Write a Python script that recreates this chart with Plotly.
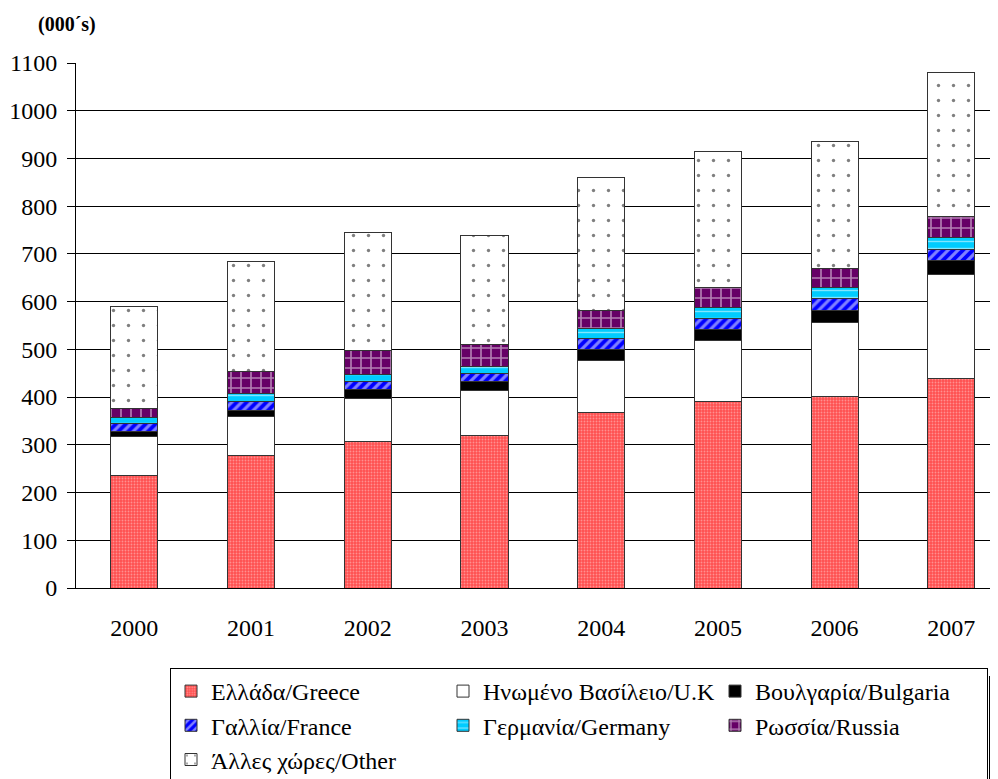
import plotly.graph_objects as go

years = ["2000", "2001", "2002", "2003", "2004", "2005", "2006", "2007"]
greece = [236, 278, 308, 319, 368, 391, 401, 439]
uk = [82, 82, 89, 95, 109, 128, 156, 218]
bulgaria = [10, 12, 19, 18, 23, 23, 25, 30]
france = [17, 19, 16, 17, 23, 22, 24, 23]
germany = [12, 16, 15, 15, 20, 23, 23, 24]
russia = [20, 46, 50, 47, 39, 42, 40, 45]
other = [212, 231, 248, 228, 278, 286, 266, 302]

names = ["Ελλάδα/Greece", "Ηνωμένο Βασίλειο/U.K", "Βουλγαρία/Bulgaria",
         "Γαλλία/France", "Γερμανία/Germany", "Ρωσσία/Russia", "Άλλες χώρες/Other"]
series = [greece, uk, bulgaria, france, germany, russia, other]

styles = [
    dict(color="#FF5555", pattern=dict(shape=".", fgcolor="#FFD0D0", bgcolor="#FF5050", size=3, solidity=0.3)),
    dict(color="white"),
    dict(color="black"),
    dict(color="#0000FF", pattern=dict(shape="/", fgcolor="white", bgcolor="#0000FF", size=7, solidity=0.45)),
    dict(color="#00CCFF", pattern=dict(shape="-", fgcolor="white", bgcolor="#00CCFF", size=7, solidity=0.2)),
    dict(color="#660066", pattern=dict(shape="+", fgcolor="white", bgcolor="#660066", size=10, solidity=0.3)),
    dict(color="white", pattern=dict(shape=".", fgcolor="black", bgcolor="white", size=15, solidity=0.04)),
]

fig = go.Figure()
for nm, vals, st in zip(names, series, styles):
    marker = dict(st)
    marker["line"] = dict(color="#333333", width=1)
    fig.add_trace(go.Bar(x=years, y=vals, name=nm, marker=marker, width=0.403))

serif = "Liberation Serif, Times New Roman, serif"
OFF = 8  # page body margin
W, H = 998 - OFF, 779 - OFF
PL, PT, PR, PB = 76, 63, 998, 588  # plot area in screen pixels
L = PL - OFF
T = PT - OFF
R = 0
pw = PR - PL
ph = PB - PT
B = H - T - ph

def px_x(p):
    return (p - PL) / pw

def px_y(p):
    return (PB - p) / ph

fig.update_layout(
    width=W, height=H,
    barmode="stack",
    plot_bgcolor="white", paper_bgcolor="white",
    margin=dict(l=L, r=R, t=T, b=B, pad=0, autoexpand=False),
    font=dict(family=serif, size=24, color="black"),
    showlegend=True,
    legend=dict(
        orientation="h", traceorder="normal",
        x=px_x(170), xanchor="left", y=px_y(668), yanchor="top",
        bordercolor="black", borderwidth=1, bgcolor="white",
        font=dict(family=serif, size=24, color="black"),
        entrywidth=227, entrywidthmode="pixels",
    ),
    xaxis=dict(
        type="category", range=[-0.5, 7.4],
        showline=True, linecolor="black", linewidth=1,
        ticks="outside", ticklen=18, tickcolor="rgba(0,0,0,0)",
        showgrid=False, tickfont=dict(family=serif, size=24),
    ),
    yaxis=dict(
        range=[0, 1100], dtick=100,
        showline=True, linecolor="black", linewidth=1,
        ticks="outside", ticklen=8, tickcolor="black",
        showgrid=True, gridcolor="black", gridwidth=1,
        ticklabelstandoff=5, tickfont=dict(family=serif, size=24),
        zeroline=False,
    ),
    annotations=[dict(
        text="<b>(000´s)</b>", xref="paper", yref="paper",
        x=px_x(36), y=px_y(25), xanchor="left", yanchor="middle",
        showarrow=False, font=dict(family=serif, size=20, color="black"),
    )],
    shapes=[dict(
        type="rect", xref="paper", yref="paper",
        x0=px_x(989), x1=px_x(997), y0=px_y(676), y1=px_y(800),
        fillcolor="black", line=dict(width=0), layer="above",
    )],
)

fig.write_html("out.html")
